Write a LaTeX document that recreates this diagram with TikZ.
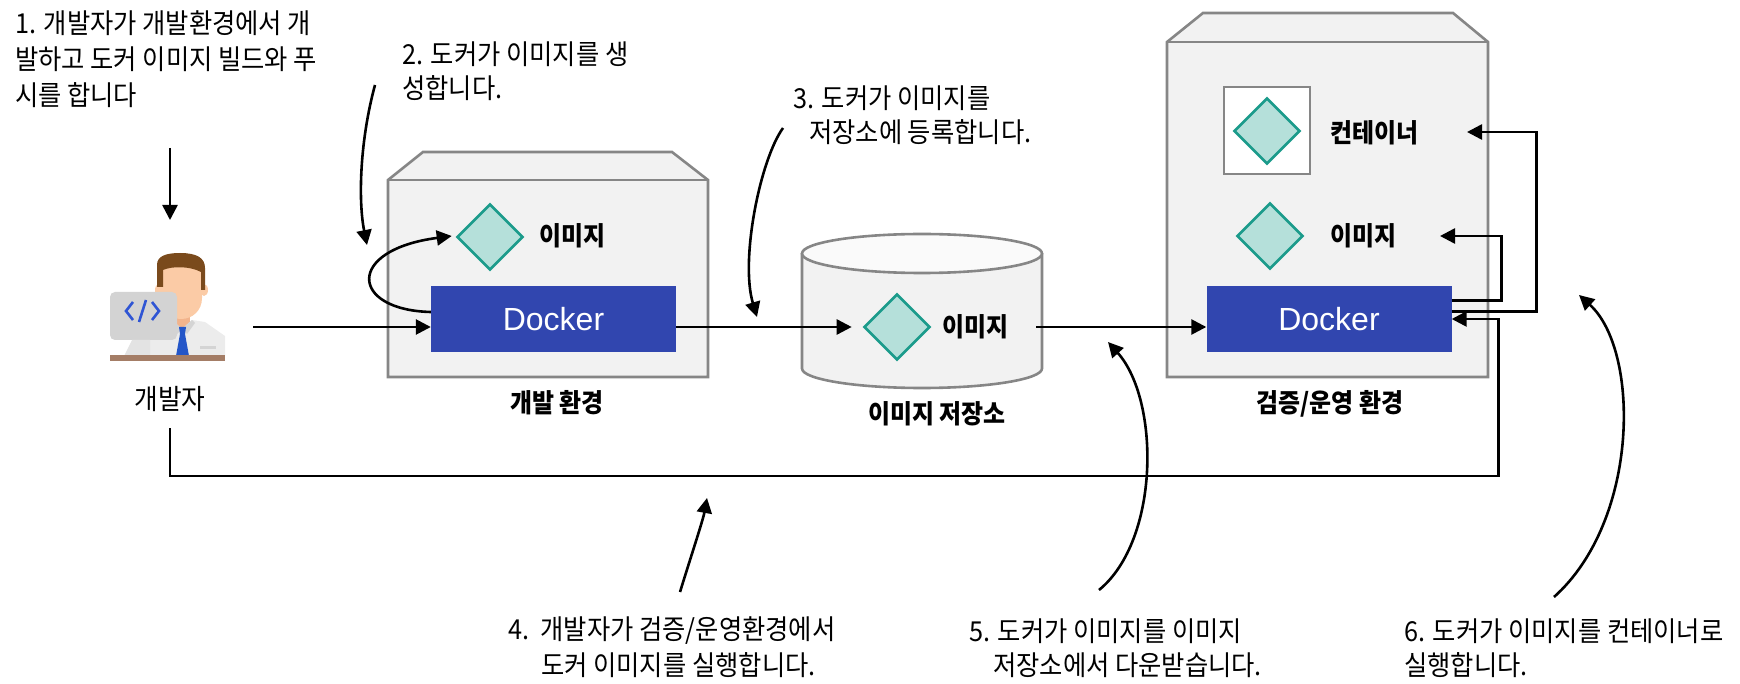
\documentclass[tikz,border=0pt]{standalone}
\usepackage{fontspec}
\usetikzlibrary{arrows.meta,calc,shapes.geometric}
\newfontfamily\annfont[FakeStretch=0.92]{Noto Sans CJK KR}
\newfontfamily\lblfont[FakeStretch=0.92]{Noto Sans CJK KR}
\newfontfamily\dockfont{Liberation Sans}

\definecolor{boxfill}{HTML}{F2F2F2}
\definecolor{boxline}{HTML}{868686}
\definecolor{dockblue}{RGB}{49,70,175}
\definecolor{tealline}{RGB}{27,155,139}
\definecolor{tealfill}{RGB}{181,224,218}
\definecolor{skin}{HTML}{FBCBA6}
\definecolor{skindark}{HTML}{F2B48C}
\definecolor{hair}{HTML}{7A4A1C}
\definecolor{shirt}{HTML}{ECECEC}
\definecolor{collar}{HTML}{D4D4D4}
\definecolor{monitor}{HTML}{D3D3D3}
\definecolor{stand}{HTML}{E3E3E3}
\definecolor{codeblue}{HTML}{2F55D4}
\definecolor{tieblue}{HTML}{2456C8}
\definecolor{desk}{HTML}{A47D66}

\begin{document}
\begin{tikzpicture}[x=1pt,y=-1pt,
  annot/.style={font=\annfont\fontsize{27.5}{31}\selectfont, anchor=west, inner sep=0pt},
  lbl/.style={font=\lblfont\bfseries\fontsize{26}{30}\selectfont, inner sep=0pt},
  envbox/.style={fill=boxfill, draw=boxline, line width=2.6pt, line join=miter},
  img/.style={diamond, draw=tealline, fill=tealfill, line width=2.6pt,
    minimum width=66pt, minimum height=66pt, inner sep=0pt},
  dockbox/.style={rectangle, fill=dockblue, minimum width=245pt, minimum height=66pt,
    inner sep=0pt, text=white, font=\dockfont\fontsize{32}{38}\selectfont},
  conn/.style={line width=2.6pt, -{Triangle[length=15pt,width=15pt]}},
  wire/.style={line width=2.6pt},
]
\useasboundingbox (0,0) rectangle (1740,684);

% ---------- development environment ----------
\draw[envbox] (388,377) -- (388,180) -- (423,152) -- (672,152) -- (708,180) -- (708,377) -- cycle;
\draw[boxline, line width=2.6pt] (388,180) -- (708,180);
\node[img] (diamA) at (490,237) {};
\node[lbl, anchor=west] (imgA) at (539,236) {이미지};
\node[dockbox] (dockA) at (553.5,319) {Docker};
\node[lbl] (envA) at (557,403) {개발 환경};

% ---------- image registry ----------
\fill[boxfill] (802,253.5) -- (802,368.5) arc[start angle=180, end angle=0, x radius=120, y radius=19.5] -- (1042,253.5) -- cycle;
\draw[boxline, line width=2.6pt] (802,253.5) -- (802,368.5) arc[start angle=180, end angle=0, x radius=120, y radius=19.5] -- (1042,253.5);
\draw[boxline, fill=white!60!boxfill, line width=2.6pt] (922,253.5) ellipse[x radius=120, y radius=19.5];
\node[img] (diamR) at (897,327) {};
\node[lbl, anchor=west] (imgR) at (942,327) {이미지};
\node[lbl] (envR) at (937,414) {이미지 저장소};

% ---------- test / production environment ----------
\draw[envbox] (1167,377) -- (1167,42) -- (1203,13) -- (1453,13) -- (1488,42) -- (1488,377) -- cycle;
\draw[boxline, line width=2.6pt] (1167,42) -- (1488,42);
\draw[fill=white, draw=boxline, line width=2.6pt] (1224,87) rectangle (1310,174);
\node[img] (diamC) at (1267,131) {};
\node[lbl, anchor=west] (contC) at (1330,133) {컨테이너};
\node[img] (diamB) at (1270,236) {};
\node[lbl, anchor=west] (imgB) at (1330,236) {이미지};
\node[dockbox] (dockB) at (1329,319) {Docker};
\node[lbl] (envB) at (1330,404) {검증/운영 환경};

% ---------- developer ----------
\fill[skin] (159,290) ellipse[x radius=4, y radius=6];
\fill[skin] (204,290) ellipse[x radius=4, y radius=6];
\fill[skindark] (174,310) rectangle (190,328);
\fill[skin] (161,265) -- (161,298) .. controls (161,312) and (172,319) .. (181,319)
  .. controls (192,319) and (202,311) .. (202,298) -- (202,265) -- cycle;
\fill[hair] (157,287) -- (157,265) .. controls (157,256) and (166,253) .. (180,253)
  .. controls (197,253) and (205,258) .. (205,268) -- (205,290) -- (201,290) -- (201,272)
  .. controls (190,266) and (172,266) .. (163,270) -- (163,287) -- cycle;
\fill[shirt] (150,324) -- (172,320) -- (182,329) -- (192,320) -- (205,322) -- (225,336)
  -- (225,356) -- (150,356) -- cycle;
\fill[collar] (172,320) -- (182,329) -- (177,334) -- (169,323) -- cycle;
\fill[collar] (192,320) -- (182,329) -- (187,334) -- (195,323) -- cycle;
\fill[tieblue] (179,327) -- (186,327) -- (185,334) -- (180,334) -- cycle;
\fill[tieblue] (180,334) -- (185,334) -- (189,356) -- (176,356) -- cycle;
\fill[collar] (200,346) rectangle (216,349);
\fill[monitor, rounded corners=5pt] (110,292) rectangle (177,340);
\fill[stand] (132,340) -- (150,340) -- (150,356) -- (124,356) -- cycle;
\draw[codeblue, line width=2.6pt] (133,302) -- (126,311) -- (133,320);
\draw[codeblue, line width=2.6pt] (152,302) -- (159,311) -- (152,320);
\draw[codeblue, line width=2.6pt] (146,300) -- (139,322);
\fill[desk] (110,355) rectangle (225,361);
\node[annot, anchor=center, font=\annfont\fontsize{28}{32}\selectfont] (devLbl) at (170,399) {개발자};

% ---------- annotations ----------
\node[annot] (t1a) at (15,23.5) {1. 개발자가 개발환경에서 개};
\node[annot] (t1b) at (15,59.5) {발하고 도커 이미지 빌드와 푸};
\node[annot] (t1c) at (15,95) {시를 합니다};
\node[annot] (t2a) at (402,54.5) {2. 도커가 이미지를 생};
\node[annot] (t2b) at (402,88) {성합니다.};
\node[annot] (t3a) at (793,98) {3. 도커가 이미지를};
\node[annot] (t3b) at (809,132.5) {저장소에 등록합니다.};
\node[annot] (t4a) at (508,631) {4.\ \ 개발자가 검증/운영환경에서};
\node[annot] (t4b) at (541,665.5) {도커 이미지를 실행합니다.};
\node[annot] (t5a) at (969,631) {5. 도커가 이미지를 이미지};
\node[annot] (t5b) at (993,665.5) {저장소에서 다운받습니다.};
\node[annot] (t6a) at (1404,631) {6. 도커가 이미지를 컨테이너로};
\node[annot] (t6b) at (1404,665.5) {실행합니다.};

% ---------- free ends of connectors ----------
\coordinate (a1s) at (170,148);
\coordinate (a1e) at (170,220);
\coordinate (devOut) at (253,327);
\coordinate (a2s) at (375,85);
\coordinate (a2e) at (367,245);
\coordinate (a3s) at (783,128);
\coordinate (a3e) at (757,317);
\coordinate (a4s) at (680,592);
\coordinate (a4e) at (707,498);
\coordinate (a5s) at (1099,590);
\coordinate (a5e) at (1108,342);
\coordinate (a6s) at (1554,597);
\coordinate (a6e) at (1579,295);
\coordinate (repoOut) at (1036,327);
\coordinate (tipImg) at (1440,236);
\coordinate (tipCont) at (1467,132);
\coordinate (loopS) at (170,428);

% ---------- flow ----------
\draw[conn] (devOut) -- (devOut -| dockA.west);
\draw[conn] ($(dockA.west)+(0,-7)$) .. controls (350,310) and (345,250) .. ($(diamA.west)+(-4,-1)$);
\draw[conn] (dockA.east |- diamR.west) -- ($(diamR.west)+(-11,0)$);
\draw[conn] (repoOut) -- (repoOut -| dockB.west);
\draw[conn] ($(dockB.north east)+(0,15)$) -- ++(50,0) |- (tipImg);
\draw[conn] ($(dockB.north east)+(0,26)$) -- ++(85,0) |- (tipCont);
\draw[conn] (loopS) -- (170,476) -| ($(dockB.east)+(47,0)$) -- (dockB.east);

% ---------- annotation pointers ----------
\draw[conn] (a1s) -- (a1e);
\draw[conn] (a2s) .. controls (360,140) and (358,200) .. (a2e);
\draw[conn] (a3s) .. controls (760,160) and (740,260) .. (a3e);
\draw[conn] (a4s) .. controls (693,550) and (703,520) .. (a4e);
\draw[conn] (a5s) .. controls (1160,540) and (1160,400) .. (a5e);
\draw[conn] (a6s) .. controls (1640,520) and (1640,350) .. (a6e);
\end{tikzpicture}
\end{document}
